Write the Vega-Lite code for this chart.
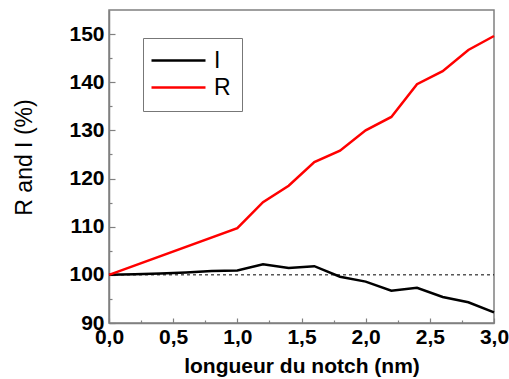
{
  "$schema": "https://vega.github.io/schema/vega-lite/v6.json",
  "width": 385,
  "height": 313,
  "autosize": "none",
  "padding": {"left": 109, "top": 10, "right": 15, "bottom": 56},
  "config": {
    "font": "Liberation Sans",
    "view": {"stroke": "#808080", "strokeWidth": 1.5},
    "axis": {
      "grid": false,
      "domainColor": "#808080",
      "domainWidth": 1.5,
      "tickColor": "#808080",
      "tickWidth": 1.2,
      "labelFont": "Liberation Sans",
      "labelFontWeight": "bold",
      "labelFontSize": 21,
      "labelColor": "#000",
      "labelFlush": false,
      "titleColor": "#000",
      "titleFont": "Liberation Sans"
    }
  },
  "datasets": {
    "curves": [
      {"length": 0.0, "value": 100.0, "series": "I"},
      {"length": 0.2, "value": 100.1, "series": "I"},
      {"length": 0.4, "value": 100.3, "series": "I"},
      {"length": 0.6, "value": 100.5, "series": "I"},
      {"length": 0.8, "value": 100.8, "series": "I"},
      {"length": 1.0, "value": 100.9, "series": "I"},
      {"length": 1.2, "value": 102.2, "series": "I"},
      {"length": 1.4, "value": 101.4, "series": "I"},
      {"length": 1.6, "value": 101.8, "series": "I"},
      {"length": 1.8, "value": 99.6, "series": "I"},
      {"length": 2.0, "value": 98.6, "series": "I"},
      {"length": 2.2, "value": 96.7, "series": "I"},
      {"length": 2.4, "value": 97.3, "series": "I"},
      {"length": 2.6, "value": 95.4, "series": "I"},
      {"length": 2.8, "value": 94.3, "series": "I"},
      {"length": 3.0, "value": 92.2, "series": "I"},
      {"length": 0.0, "value": 100.0, "series": "R"},
      {"length": 1.0, "value": 109.7, "series": "R"},
      {"length": 1.2, "value": 115.1, "series": "R"},
      {"length": 1.4, "value": 118.5, "series": "R"},
      {"length": 1.6, "value": 123.4, "series": "R"},
      {"length": 1.8, "value": 125.8, "series": "R"},
      {"length": 2.0, "value": 130.0, "series": "R"},
      {"length": 2.2, "value": 132.8, "series": "R"},
      {"length": 2.4, "value": 139.6, "series": "R"},
      {"length": 2.6, "value": 142.3, "series": "R"},
      {"length": 2.8, "value": 146.7, "series": "R"},
      {"length": 3.0, "value": 149.6, "series": "R"}
    ],
    "baseline": [
      {"from": 0, "to": 3, "level": 100}
    ]
  },
  "layer": [
    {
      "data": {"name": "baseline"},
      "mark": {"type": "rule", "color": "#000", "strokeWidth": 1, "strokeDash": [3, 3]},
      "encoding": {
        "x": {
          "field": "from",
          "type": "quantitative",
          "scale": {"domain": [0, 3], "nice": false},
          "axis": {
            "orient": "bottom",
            "values": [0.25, 0.75, 1.25, 1.75, 2.25, 2.75],
            "tickSize": -3,
            "labels": false,
            "domain": false,
            "title": null
          }
        },
        "x2": {"field": "to"},
        "y": {
          "field": "level",
          "type": "quantitative",
          "scale": {"domain": [90, 155], "nice": false, "zero": false},
          "axis": {
            "orient": "left",
            "values": [95, 105, 115, 125, 135, 145],
            "tickSize": -3,
            "labels": false,
            "domain": false,
            "title": null
          }
        }
      }
    },
    {
      "data": {"name": "curves"},
      "mark": {"type": "line", "strokeWidth": 2.5},
      "encoding": {
        "x": {
          "field": "length",
          "type": "quantitative",
          "axis": {
            "orient": "bottom",
            "values": [0, 0.5, 1, 1.5, 2, 2.5, 3],
            "tickSize": -5,
            "labelPadding": 8,
            "labelExpr": "replace(format(datum.value, '.1f'), '.', ',')",
            "title": "longueur du notch (nm)",
            "titleFontSize": 21,
            "titleFontWeight": "bold",
            "titlePadding": 8
          }
        },
        "y": {
          "field": "value",
          "type": "quantitative",
          "axis": {
            "orient": "left",
            "values": [90, 100, 110, 120, 130, 140, 150],
            "tickSize": -6,
            "labelPadding": 11,
            "title": "R and I (%)",
            "titleFontSize": 23,
            "titleFontWeight": "normal",
            "titlePadding": 32,
            "titleY": 147
          }
        },
        "color": {
          "field": "series",
          "type": "nominal",
          "scale": {"domain": ["I", "R"], "range": ["#000000", "#ff0000"]},
          "legend": {
            "orient": "none",
            "legendX": 34,
            "legendY": 28,
            "title": null,
            "symbolType": "M-3,0H3",
            "symbolSize": 324,
            "symbolOffset": 13,
            "symbolStrokeWidth": 2.5,
            "labelFontSize": 23,
            "labelFont": "Liberation Sans",
            "labelOffset": 24,
            "padding": 11,
            "rowPadding": 3,
            "strokeColor": "#777777",
            "fillColor": "#ffffff"
          }
        }
      }
    }
  ],
  "resolve": {"axis": {"x": "independent", "y": "independent"}}
}
